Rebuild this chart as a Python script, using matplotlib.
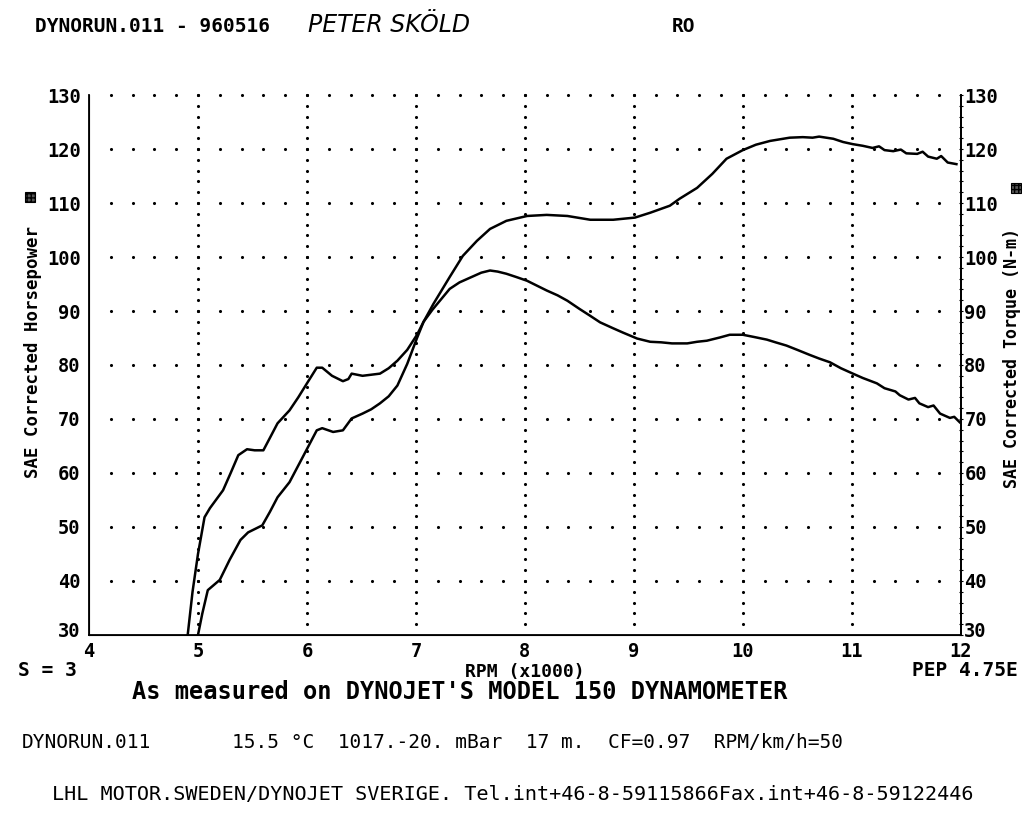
import matplotlib
matplotlib.use("Agg")
import matplotlib.pyplot as plt
import matplotlib.transforms as mtransforms
import numpy as np
from matplotlib.patches import Rectangle

# ---- data ----
rpm_tq = [4.90, 4.95, 5.00, 5.06, 5.11, 5.23, 5.30, 5.37, 5.45, 5.52, 5.60, 5.66, 5.73, 5.84,
          5.92, 6.00, 6.09, 6.14, 6.23, 6.33, 6.38, 6.41, 6.51, 6.67, 6.75, 6.83, 6.92, 7.01,
          7.07, 7.15, 7.31, 7.40, 7.50, 7.60, 7.68, 7.75, 7.83, 7.92, 8.02, 8.10, 8.20, 8.30,
          8.39, 8.50, 8.60, 8.69, 8.81, 8.90, 9.03, 9.15, 9.25, 9.35, 9.49, 9.58, 9.67, 9.79,
          9.88, 10.00, 10.10, 10.22, 10.30, 10.40, 10.50, 10.61, 10.70, 10.80, 10.90, 11.01,
          11.10, 11.23, 11.30, 11.40, 11.44, 11.52, 11.58, 11.62, 11.70, 11.75, 11.81, 11.90,
          11.94, 11.99]
torque = [29.0, 38.0, 45.0, 51.8, 53.5, 56.8, 60.0, 63.3, 64.4, 64.2, 64.2, 66.5, 69.2, 71.6,
          74.0, 76.6, 79.5, 79.5, 78.0, 77.0, 77.4, 78.4, 78.0, 78.4, 79.4, 80.8, 82.8, 85.6,
          88.0, 90.2, 94.1, 95.3, 96.2, 97.1, 97.5, 97.3, 96.9, 96.3, 95.6, 94.8, 93.8, 92.9,
          91.9, 90.4, 89.1, 87.9, 86.8, 86.0, 84.9, 84.3, 84.2, 84.0, 84.0, 84.3, 84.5, 85.1,
          85.6, 85.6, 85.2, 84.7, 84.2, 83.6, 82.8, 81.9, 81.2, 80.5, 79.4, 78.4,
          77.6, 76.6, 75.7, 75.1, 74.4, 73.6, 73.9, 72.9, 72.2, 72.5, 71.0, 70.2,
          70.4, 69.4]

rpm_hp = [4.99, 5.04, 5.09, 5.20, 5.29, 5.39, 5.46, 5.52, 5.59, 5.66, 5.73, 5.84, 5.96, 6.09,
          6.14, 6.24, 6.33, 6.41, 6.51, 6.59, 6.67, 6.75, 6.83, 6.92, 7.01, 7.07, 7.16, 7.31,
          7.43, 7.56, 7.68, 7.83, 8.02, 8.20, 8.39, 8.60, 8.81, 9.01, 9.15, 9.33, 9.42, 9.58,
          9.72, 9.85, 10.00, 10.12, 10.25, 10.43, 10.55, 10.64, 10.70, 10.83, 10.92, 11.01,
          11.10, 11.19, 11.25, 11.30, 11.38, 11.45, 11.50, 11.60, 11.65, 11.70, 11.78, 11.82,
          11.88, 11.96]
horsepower = [29.0, 34.0, 38.3, 40.2, 43.9, 47.6, 49.0, 49.6, 50.3, 52.8, 55.5, 58.3, 62.9, 67.9,
              68.3, 67.6, 67.9, 70.1, 71.0, 71.8, 72.9, 74.2, 76.2, 80.2, 85.0, 88.0, 91.3, 96.3,
              100.2, 103.0, 105.2, 106.7, 107.6, 107.8, 107.6, 106.9, 106.9, 107.3, 108.2, 109.5,
              110.8, 112.8, 115.4, 118.2, 119.8, 120.8, 121.5, 122.1, 122.2, 122.1, 122.3, 121.9,
              121.3, 120.9, 120.6, 120.2, 120.5, 119.8, 119.6, 119.9, 119.2, 119.1, 119.5, 118.6,
              118.2, 118.7, 117.5, 117.2]

x_ticks = [4, 5, 6, 7, 8, 9, 10, 11, 12]
y_ticks = [30, 40, 50, 60, 70, 80, 90, 100, 110, 120, 130]

MONO = "DejaVu Sans Mono"

fig = plt.figure(figsize=(10.22, 8.15), dpi=100)
fig.patch.set_facecolor("white")
ax = fig.add_axes([0.0871, 0.2209, 0.853, 0.6625])
ax.set_xlim(4, 12)
ax.set_ylim(30, 130)

# dotted grid
for yv in y_ticks[1:]:
    gx = np.arange(4.2, 11.9, 0.2)
    ax.scatter(gx, np.full_like(gx, yv), s=5, color="black", lw=0, zorder=1, clip_on=False)
for xv in x_ticks[1:-1]:
    gy = np.arange(32, 130.5, 2)
    ax.scatter(np.full_like(gy, xv), gy, s=5, color="black", lw=0, zorder=1, clip_on=False)

ax.plot(rpm_tq, torque, color="black", lw=1.8, zorder=3)
ax.plot(rpm_hp, horsepower, color="black", lw=1.8, zorder=3)

ax.spines["top"].set_visible(False)
for s in ["left", "right", "bottom"]:
    ax.spines[s].set_linewidth(1.3)
ax.set_xticks(x_ticks)
ax.set_yticks(y_ticks)
ax.tick_params(axis="x", length=0, pad=5)
ax.tick_params(axis="y", length=0, pad=6)
for lab in ax.get_xticklabels() + ax.get_yticklabels():
    lab.set_fontfamily(MONO)
    lab.set_fontweight("bold")
    lab.set_fontsize(13.5)

ax2 = ax.twinx()
ax2.set_ylim(30, 130)
ax2.set_yticks(y_ticks)
ax2.set_yticks(np.arange(30, 131, 2), minor=True)
ax2.tick_params(axis="y", which="major", length=3, direction="inout", pad=1)
ax2.tick_params(axis="y", which="minor", length=3, direction="inout", width=0.8)
ax2.spines["top"].set_visible(False)
ax2.spines["right"].set_linewidth(1.3)
for lab in ax2.get_yticklabels():
    lab.set_fontfamily(MONO)
    lab.set_fontweight("bold")
    lab.set_fontsize(13.5)

# raise the bottom "30" labels slightly above the x axis, as in the reference
lift = mtransforms.ScaledTranslation(0, 5 / 100.0, fig.dpi_scale_trans)
for a in (ax, ax2):
    for t in a.yaxis.get_major_ticks()[:1]:
        t.label1.set_transform(t.label1.get_transform() + lift)
        t.label2.set_transform(t.label2.get_transform() + lift)

W, H = 1022.0, 815.0
def ft(px, py, s, **kw):
    fig.text(px / W, 1 - py / H, s, **kw)

ft(35, 27, "DYNORUN.011 - 960516", family=MONO, fontweight="bold", fontsize=14, va="center", ha="left")
ft(308, 25, "PETER SKÖLD", family="DejaVu Sans", style="italic", fontsize=17, va="center", ha="left")
ft(672, 27, "RO", family=MONO, fontweight="bold", fontsize=14, va="center", ha="left")

ft(33, 352, "SAE Corrected Horsepower", family=MONO, fontweight="bold", fontsize=12.5,
   rotation=90, va="center", ha="center")
ft(1012, 358, "SAE Corrected Torque (N-m)", family=MONO, fontweight="bold", fontsize=12,
   rotation=90, va="center", ha="center")
for (mx, my) in [(30, 197), (1016, 188)]:
    fig.add_artist(Rectangle(((mx - 5) / W, 1 - (my + 5) / H), 10 / W, 10 / H,
                             transform=fig.transFigure, facecolor="#555555",
                             edgecolor="black", lw=0.8, hatch="++++"))

ft(18, 671, "S = 3", family=MONO, fontweight="bold", fontsize=14, va="center", ha="left")
ft(525, 672, "RPM (x1000)", family=MONO, fontweight="bold", fontsize=13, va="center", ha="center")
ft(1018, 671, "PEP 4.75E", family=MONO, fontweight="bold", fontsize=14, va="center", ha="right")
ft(460, 692, "As measured on DYNOJET'S MODEL 150 DYNAMOMETER", family=MONO, fontweight="bold",
   fontsize=17, va="center", ha="center")
ft(22, 742, "DYNORUN.011", family=MONO, fontsize=14, va="center", ha="left")
ft(232, 742, "15.5 °C  1017.-20. mBar  17 m.  CF=0.97  RPM/km/h=50", family=MONO, fontsize=14,
   va="center", ha="left")
ft(52, 794, "LHL MOTOR.SWEDEN/DYNOJET SVERIGE. Tel.int+46-8-59115866Fax.int+46-8-59122446",
   family=MONO, fontsize=14.5, va="center", ha="left")

fig.savefig("out.png", dpi=100, facecolor="white")
